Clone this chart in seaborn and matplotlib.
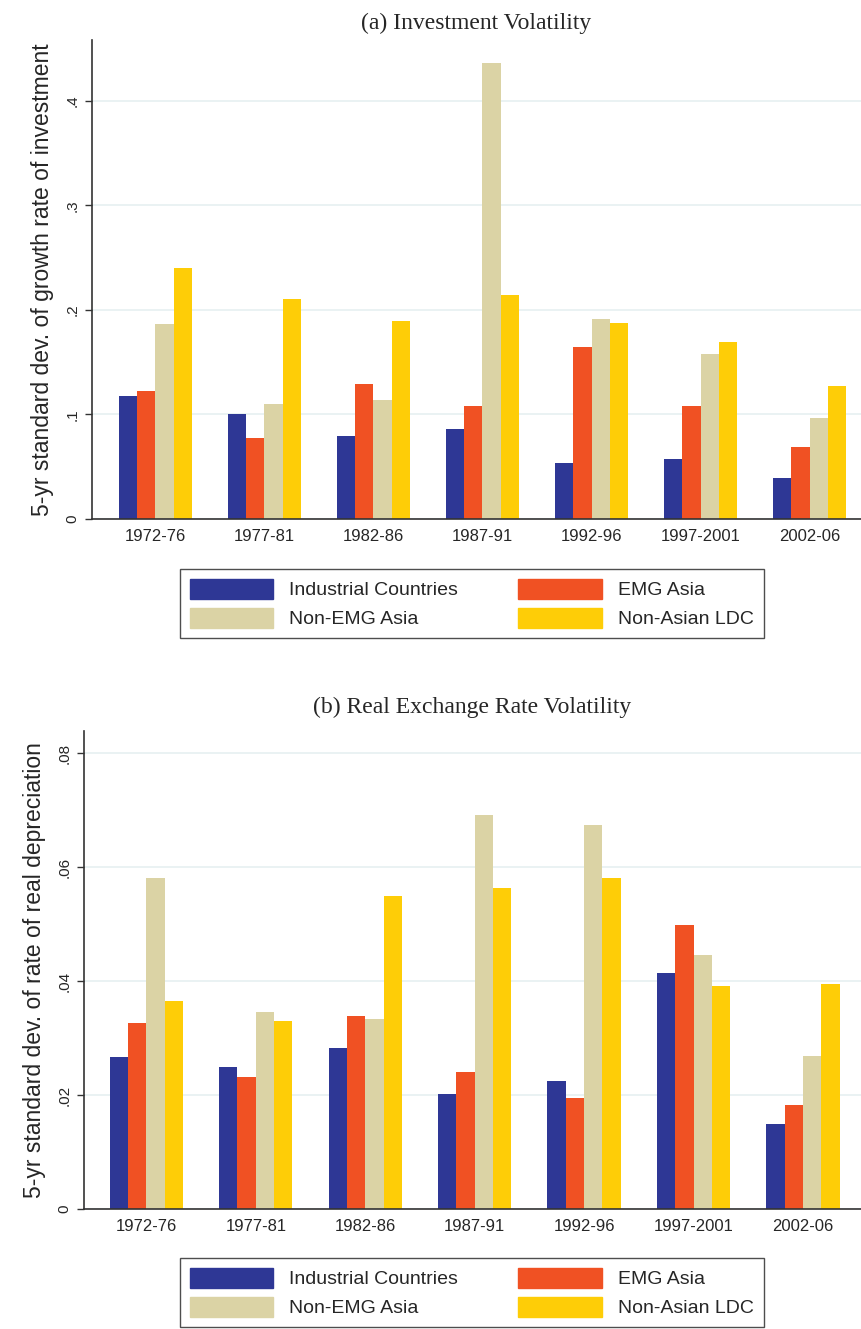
import matplotlib
matplotlib.use("Agg")
import matplotlib.pyplot as plt
import numpy as np
import pandas as pd
import seaborn as sns

periods = ["1972-76", "1977-81", "1982-86", "1987-91", "1992-96", "1997-2001", "2002-06"]
groups = ["Industrial Countries", "EMG Asia", "Non-EMG Asia", "Non-Asian LDC"]
colors = ["#2e3795", "#f05123", "#dbd3a5", "#fecd07"]

# (a) investment volatility
inv_industrial = [0.118, 0.100, 0.079, 0.086, 0.054, 0.057, 0.039]
inv_emg_asia = [0.122, 0.0775, 0.129, 0.108, 0.164, 0.108, 0.069]
inv_non_emg_asia = [0.186, 0.110, 0.114, 0.436, 0.191, 0.158, 0.097]
inv_non_asian_ldc = [0.240, 0.210, 0.189, 0.214, 0.187, 0.169, 0.127]

# (b) real exchange rate volatility
rer_industrial = [0.0267, 0.0249, 0.0282, 0.0202, 0.0225, 0.0414, 0.0149]
rer_emg_asia = [0.0326, 0.0232, 0.0338, 0.0240, 0.0194, 0.0498, 0.0182]
rer_non_emg_asia = [0.0581, 0.0345, 0.0333, 0.0691, 0.0674, 0.0446, 0.0268]
rer_non_asian_ldc = [0.0365, 0.0330, 0.0550, 0.0564, 0.0581, 0.0391, 0.0395]


def to_long(series):
    rows = []
    for g, vals in zip(groups, series):
        for p, v in zip(periods, vals):
            rows.append({"period": p, "group": g, "value": v})
    return pd.DataFrame(rows)


df_a = to_long([inv_industrial, inv_emg_asia, inv_non_emg_asia, inv_non_asian_ldc])
df_b = to_long([rer_industrial, rer_emg_asia, rer_non_emg_asia, rer_non_asian_ldc])

sns.set_style("white")
plt.rcParams["font.family"] = ["Liberation Sans", "DejaVu Sans"]

W, H = 861, 1329
fig = plt.figure(figsize=(W / 100, H / 100), dpi=100)


def px_axes(left, top, right, bottom):
    return fig.add_axes([left / W, 1 - bottom / H, (right - left) / W, (bottom - top) / H])


def draw_panel(ax, df, title, ylabel, ymax, ticks, ticklabels, xlim, legend_top, title_pad):
    sns.barplot(data=df, x="period", y="value", hue="group", palette=colors,
                width=0.67, gap=0, saturation=1, ax=ax, legend=False, edgecolor="none")
    ax.set_ylim(0, ymax)
    ax.set_xlim(*xlim)
    ax.set_yticks(ticks)
    ax.set_yticklabels(ticklabels, rotation=90, va="center", fontsize=11)
    ax.tick_params(axis="y", length=5, width=1, color="#333333", direction="out", left=True, pad=4)
    ax.tick_params(axis="x", length=0, labelsize=12, pad=7)
    ax.set_xlabel("")
    ax.set_ylabel(ylabel, fontsize=16.5, labelpad=8)
    ax.grid(axis="y", color="#e6f0f1", linewidth=1.2)
    ax.set_axisbelow(True)
    for s in ["top", "right"]:
        ax.spines[s].set_visible(False)
    for s in ["left", "bottom"]:
        ax.spines[s].set_color("#333333")
        ax.spines[s].set_linewidth(1.2)
    ax.set_title(title, fontsize=17, family=["Liberation Serif", "DejaVu Serif"], pad=title_pad)

    # legend fills row-wise in the original: reorder for matplotlib's column fill
    order = [0, 2, 1, 3]
    handles = [plt.Rectangle((0, 0), 1, 1, color=colors[i]) for i in order]
    labels = [groups[i] for i in order]
    leg = fig.legend(handles, labels, loc="upper left", bbox_to_anchor=(180 / W, 1 - legend_top / H),
                     ncol=2, fontsize=14, handlelength=4.3, handleheight=1.24,
                     handletextpad=0.82, columnspacing=3.1, borderpad=0.5, labelspacing=0.42,
                     borderaxespad=0, frameon=True, fancybox=False, edgecolor="#222222")
    leg.get_frame().set_linewidth(1.0)


ax_a = px_axes(92, 40, 861, 519)
draw_panel(ax_a, df_a, "(a) Investment Volatility",
           "5-yr standard dev. of growth rate of investment",
           0.458, [0, 0.1, 0.2, 0.3, 0.4], ["0", ".1", ".2", ".3", ".4"], (-0.58, 6.47), 569, 8)

ax_b = px_axes(84, 731, 861, 1209)
draw_panel(ax_b, df_b, "(b) Real Exchange Rate Volatility",
           "5-yr standard dev. of rate of real depreciation",
           0.0839, [0, 0.02, 0.04, 0.06, 0.08], ["0", ".02", ".04", ".06", ".08"], (-0.57, 6.53), 1258, 13)

fig.savefig("out.png", dpi=100)
